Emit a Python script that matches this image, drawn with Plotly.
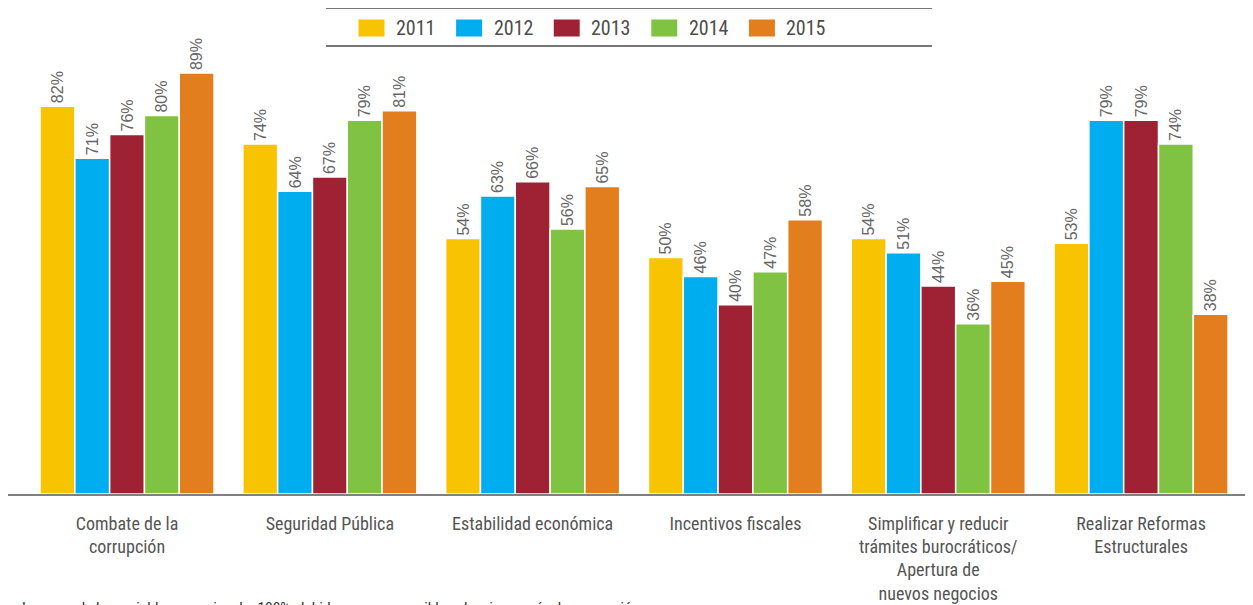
import plotly.graph_objects as go

categories = [
    "Combate de la<br>corrupción",
    "Seguridad Pública",
    "Estabilidad económica",
    "Incentivos fiscales",
    "Simplificar y reducir<br>trámites burocráticos/<br>Apertura de<br>nuevos negocios",
    "Realizar Reformas<br>Estructurales",
]
years = ["2011", "2012", "2013", "2014", "2015"]
v2011 = [82, 74, 54, 50, 54, 53]
v2012 = [71, 64, 63, 46, 51, 79]
v2013 = [76, 67, 66, 40, 44, 79]
v2014 = [80, 79, 56, 47, 36, 74]
v2015 = [89, 81, 65, 58, 45, 38]
series = [v2011, v2012, v2013, v2014, v2015]
colors = ["#F8C300", "#00AEEF", "#9E2233", "#80C241", "#E37E1E"]
footnote = "La suma de las variables no es igual a 100%, debido a que era posible seleccionar más de una opción."

NARROW = "Roboto Condensed, DejaVu Sans Condensed, sans-serif"
PX_PER_UNIT = 4.73

fig = go.Figure()
xs = list(range(len(categories)))
for name, vals, col in zip(years, series, colors):
    fig.add_trace(go.Bar(
        x=xs, y=vals, name=name,
        marker=dict(color=col, line=dict(color="white", width=1.5)),
        text=[f"{v}%" for v in vals], textposition="outside", textangle=-90,
        textfont=dict(family="Liberation Sans, Arial, sans-serif", size=16, color="#666666"),
        cliponaxis=False, showlegend=False,
    ))

# The page body has an 8px margin, so the figure is offset by 8px in both directions.
fig.update_layout(
    width=1245, height=597,
    margin=dict(l=0, r=3, t=52, b=111, autoexpand=False),
    paper_bgcolor="white", plot_bgcolor="white",
    barmode="group", bargap=0.142, bargroupgap=0,
    showlegend=False,
    xaxis=dict(
        range=[-0.587, 5.537], tickmode="array", tickvals=xs, ticktext=categories,
        showgrid=False, zeroline=False, showline=True, linecolor="#808080", linewidth=2,
        ticks="", tickfont=dict(family=NARROW, size=18, color="#555555"),
        ticklabelstandoff=12, automargin=False,
    ),
    yaxis=dict(range=[0, 434 / PX_PER_UNIT], visible=False, showgrid=False,
               zeroline=False, automargin=False),
)

def py(p):  # page pixel -> paper y
    return (494 - p) / 434

def px(p):  # page pixel -> paper x
    return (p - 8) / 1242

for i, (name, col) in enumerate(zip(years, colors)):
    x0 = 358 + i * 97.6
    fig.add_shape(type="rect", xref="paper", yref="paper",
                  x0=px(x0), x1=px(x0 + 27), y0=py(37), y1=py(19),
                  fillcolor=col, line=dict(color="white", width=1))
    fig.add_annotation(xref="paper", yref="paper", x=px(x0 + 36), y=py(28),
                       xanchor="left", yanchor="middle", text=name, showarrow=False,
                       font=dict(family=NARROW, size=20, color="#4d4d4d"))

for p in (8, 46):
    fig.add_shape(type="line", xref="paper", yref="paper",
                  x0=px(326), x1=px(932), y0=py(p), y1=py(p),
                  line=dict(color="#777777", width=2))

fig.add_annotation(xref="paper", yref="paper", x=px(20), y=py(597),
                   xanchor="left", yanchor="top", text=footnote, showarrow=False,
                   font=dict(family=NARROW, size=15.5, color="#333333"))

fig.write_html("out.html")
